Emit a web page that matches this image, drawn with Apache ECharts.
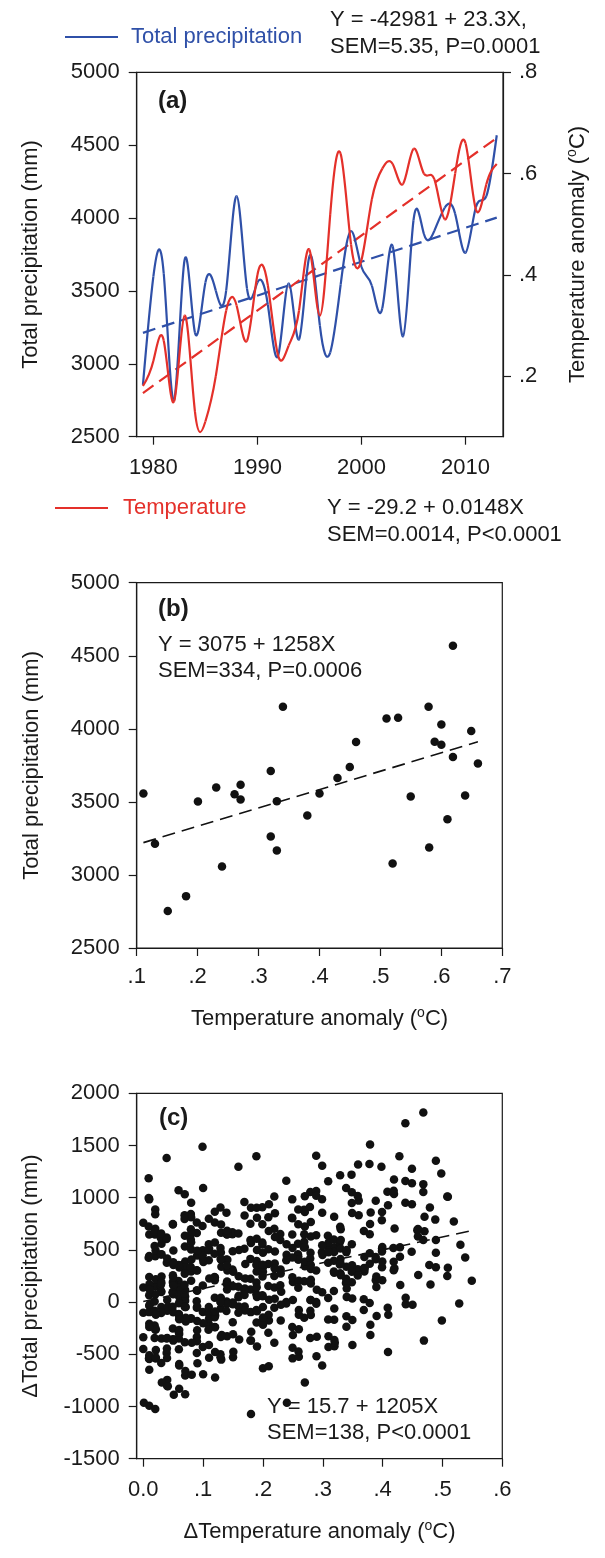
<!DOCTYPE html>
<html><head><meta charset="utf-8">
<script src="https://cdn.jsdelivr.net/npm/echarts@6/dist/echarts.min.js"></script>
<style>html,body{margin:0;padding:0;background:#fff}#c{width:605px;height:1558px}</style>
</head><body><div id="c"></div>
<script>
// ---- Data ----
const years = [1979,1980,1981,1982,1983,1984,1985,1986,1987,1988,1989,1990,1991,1992,1993,1994,1995,1996,1997,1998,1999,2000,2001,2002,2003,2004,2005,2006,2007,2008,2009,2010,2011,2012,2013];
const precipitation = [2855,3598,3618,2753,3712,3213,3557,3502,3504,4151,3516,3557,3406,3058,3552,3167,3739,3263,3079,3543,3910,3664,3536,3381,3807,3188,3985,3891,3912,4071,4030,3762,4076,4151,4568];
const temperature = [0.181,0.2305,0.2705,0.151,0.320,0.130,0.111,0.2005,0.330,0.340,0.2705,0.400,0.380,0.240,0.2606,0.330,0.4497,0.320,0.520,0.639,0.460,0.4295,0.5497,0.610,0.619,0.580,0.649,0.600,0.589,0.510,0.600,0.660,0.529,0.579,0.619];

// tick labels
const yearTicks = [1980,1990,2000,2010];
const tempAxisTicks = [0.2,0.4,0.6,0.8];
const precipTicksMin = 2500, precipTicksMax = 5000, precipStep = 500;
const dTempTicks = [0,0.1,0.2,0.3,0.4,0.5,0.6];

// texts
const eqPrecip = ['Y = -42981 + 23.3X,', 'SEM=5.35, P=0.0001'];
const eqTemp = ['Y = -29.2 + 0.0148X', 'SEM=0.0014, P<0.0001'];
const eqB = ['Y = 3075 + 1258X', 'SEM=334, P=0.0006'];
const eqC = ['Y = 15.7 + 1205X', 'SEM=138, P<0.0001'];

// ---- derived ----
function linfit(xs, ys){
  const n = xs.length; let sx=0,sy=0,sxx=0,sxy=0;
  for(let i=0;i<n;i++){sx+=xs[i];sy+=ys[i];sxx+=xs[i]*xs[i];sxy+=xs[i]*ys[i];}
  const b=(n*sxy-sx*sy)/(n*sxx-sx*sx); const a=(sy-b*sx)/n; return {a,b};
}
// end-point slopes of a natural cubic spline through the data (used only to draw the curve)
function splineSlopes(xs, ys){
  const n=xs.length, h=[], M=new Array(n).fill(0);
  for(let i=0;i<n-1;i++) h.push(xs[i+1]-xs[i]);
  const a=[],b=[],c=[],d=[];
  for(let i=1;i<n-1;i++){
    a.push(h[i-1]); b.push(2*(h[i-1]+h[i])); c.push(h[i]);
    d.push(6*((ys[i+1]-ys[i])/h[i]-(ys[i]-ys[i-1])/h[i-1]));
  }
  const m=b.length;
  for(let i=1;i<m;i++){const w=a[i]/b[i-1]; b[i]-=w*c[i-1]; d[i]-=w*d[i-1];}
  const sol=new Array(m);
  sol[m-1]=d[m-1]/b[m-1];
  for(let i=m-2;i>=0;i--) sol[i]=(d[i]-c[i]*sol[i+1])/b[i];
  for(let i=0;i<m;i++) M[i+1]=sol[i];
  const s=[];
  for(let i=0;i<n-1;i++) s.push((ys[i+1]-ys[i])/h[i]-h[i]*(2*M[i]+M[i+1])/6);
  s.push((ys[n-1]-ys[n-2])/h[n-2]+h[n-2]*(M[n-2]+2*M[n-1])/6);
  return s;
}
// panel (c): differences between every pair of years (warmer year minus cooler year)
const pairDiffs = [];
for(let i=0;i<years.length;i++){
  for(let j=i+1;j<years.length;j++){
    let hi=j, lo=i;
    if(temperature[j]<temperature[i]){hi=i;lo=j;}
    pairDiffs.push([+(temperature[hi]-temperature[lo]).toFixed(4), precipitation[hi]-precipitation[lo]]);
  }
}

const BLUE='#2F50A8', RED='#E4302A', INK='#1a1a1a';
const FF='"Liberation Sans", Arial, Helvetica, sans-serif';
const FS=22;

const fitP = linfit(years, precipitation);
const fitT = linfit(years, temperature);
const fitB = linfit(temperature, precipitation);
const fitC = linfit(pairDiffs.map(d=>d[0]), pairDiffs.map(d=>d[1]));
const x0=years[0], x1=years[years.length-1];
const tMin=Math.min(...temperature), tMax=Math.max(...temperature);
const dMin=Math.min(...pairDiffs.map(d=>d[0])), dMax=Math.max(...pairDiffs.map(d=>d[0]));

const lbl = {fontSize:FS, fontFamily:FF, color:INK};
const axLine = {show:true, onZero:false, lineStyle:{color:INK, width:1.2}};
const tick = {show:true, inside:false, length:8, lineStyle:{color:INK, width:1.2}};
const richName = {
  n:{fontSize:FS, fontFamily:FF, color:INK, lineHeight:26},
  sup:{fontSize:14, fontFamily:FF, color:INK, lineHeight:14, verticalAlign:'top'}
};
const dotFmt = v => v.toFixed(1).replace(/^0/,'');
const plain = v => String(v);

const grid = [
  {left:136.7, top:72.3, width:366.3, height:364.4, show:true, borderColor:INK, borderWidth:1.2, backgroundColor:'transparent'},
  {left:136.7, top:582.7, width:365.6, height:365.3, show:true, borderColor:INK, borderWidth:1.2, backgroundColor:'transparent'},
  {left:136.7, top:1093.3, width:365.6, height:365.4, show:true, borderColor:INK, borderWidth:1.2, backgroundColor:'transparent'}
];

const xAxis = [
  {gridIndex:0, type:'value', min:1978.4, max:2013.6, axisLine:axLine, splitLine:{show:false},
   axisTick:Object.assign({customValues:yearTicks}, tick),
   axisLabel:Object.assign({customValues:yearTicks, margin:20, formatter:plain}, lbl)},
  {gridIndex:1, type:'value', min:0.1, max:0.7, interval:0.1, axisLine:axLine, splitLine:{show:false},
   axisTick:tick, axisLabel:Object.assign({margin:18, formatter:dotFmt}, lbl),
   name:'{n|Temperature anomaly (}{sup|o}{n|C)}', nameLocation:'middle', nameGap:58,
   nameTextStyle:{rich:richName}},
  {gridIndex:2, type:'value', min:-0.011, max:0.6, axisLine:axLine, splitLine:{show:false},
   axisTick:Object.assign({customValues:dTempTicks}, tick),
   axisLabel:Object.assign({customValues:dTempTicks, margin:20, formatter:v=>v===0?'0.0':dotFmt(v)}, lbl),
   name:'{n|\u0394Temperature anomaly (}{sup|o}{n|C)}', nameLocation:'middle', nameGap:60,
   nameTextStyle:{rich:richName}}
];

const yAxis = [
  {gridIndex:0, type:'value', position:'left', min:precipTicksMin, max:precipTicksMax, interval:precipStep,
   axisLine:axLine, splitLine:{show:false}, axisTick:tick, axisLabel:Object.assign({margin:17, formatter:plain}, lbl),
   name:'Total precipitation (mm)', nameLocation:'middle', nameGap:95, nameRotate:90,
   nameTextStyle:{fontSize:FS, fontFamily:FF, color:INK}},
  {gridIndex:0, type:'value', position:'right', min:0.081, max:0.8,
   axisLine:axLine, splitLine:{show:false},
   axisTick:Object.assign({customValues:tempAxisTicks}, tick),
   axisLabel:Object.assign({customValues:tempAxisTicks, margin:16, formatter:dotFmt}, lbl),
   name:'{n|Temperature anomaly (}{sup|o}{n|C)}', nameLocation:'middle', nameGap:62, nameRotate:90,
   nameTextStyle:{rich:richName}},
  {gridIndex:1, type:'value', min:precipTicksMin, max:precipTicksMax, interval:precipStep,
   axisLine:axLine, splitLine:{show:false}, axisTick:tick, axisLabel:Object.assign({margin:17, formatter:plain}, lbl),
   name:'Total precipitation (mm)', nameLocation:'middle', nameGap:94, nameRotate:90,
   nameTextStyle:{fontSize:FS, fontFamily:FF, color:INK}},
  {gridIndex:2, type:'value', min:-1500, max:2000, interval:500,
   axisLine:axLine, splitLine:{show:false}, axisTick:tick, axisLabel:Object.assign({margin:17, formatter:plain}, lbl),
   name:'\u0394Total precipitation (mm)', nameLocation:'middle', nameGap:95, nameRotate:90,
   nameTextStyle:{fontSize:FS, fontFamily:FF, color:INK}}
];

// smooth curve drawn segment by segment through the data points (axis coords via api.coord)
function splineSeries(xs, ys, yAxisIndex, color){
  const s = splineSlopes(xs, ys);
  return {
    type:'custom', coordinateSystem:'cartesian2d', xAxisIndex:0, yAxisIndex:yAxisIndex, z:3, clip:false, silent:true,
    data: xs.map((x,i)=>[x, ys[i]]),
    renderItem: function(params, api){
      const i = params.dataIndex;
      if(i >= xs.length-1) return null;
      const h = xs[i+1]-xs[i];
      const p0 = api.coord([xs[i], ys[i]]);
      const c1 = api.coord([xs[i]+h/3, ys[i]+h*s[i]/3]);
      const c2 = api.coord([xs[i+1]-h/3, ys[i+1]-h*s[i+1]/3]);
      const p1 = api.coord([xs[i+1], ys[i+1]]);
      return {type:'bezierCurve',
        shape:{x1:p0[0],y1:p0[1],cpx1:c1[0],cpy1:c1[1],cpx2:c2[0],cpy2:c2[1],x2:p1[0],y2:p1[1]},
        style:{stroke:color, fill:'none', lineWidth:2.2}};
    }
  };
}

const dash = [13,7];
const series = [
  {type:'line', xAxisIndex:0, yAxisIndex:0, silent:true, showSymbol:false, z:2,
   data:[[x0, fitP.a+fitP.b*x0],[x1, fitP.a+fitP.b*x1]], lineStyle:{color:BLUE, width:2.2, type:dash}},
  {type:'line', xAxisIndex:0, yAxisIndex:1, silent:true, showSymbol:false, z:2,
   data:[[x0, fitT.a+fitT.b*x0],[x1, fitT.a+fitT.b*x1]], lineStyle:{color:RED, width:2.2, type:dash}},
  splineSeries(years, precipitation, 0, BLUE),
  splineSeries(years, temperature, 1, RED),
  {type:'scatter', xAxisIndex:1, yAxisIndex:2, symbolSize:8.5, itemStyle:{color:'#111', opacity:1},
   data:years.map((y,i)=>[temperature[i], precipitation[i]])},
  {type:'line', xAxisIndex:1, yAxisIndex:2, silent:true, showSymbol:false, z:4,
   data:[[tMin, fitB.a+fitB.b*tMin],[tMax, fitB.a+fitB.b*tMax]], lineStyle:{color:'#111', width:1.6, type:dash}},
  {type:'scatter', xAxisIndex:2, yAxisIndex:3, symbolSize:8.5, itemStyle:{color:'#111', opacity:1}, data:pairDiffs},
  {type:'line', xAxisIndex:2, yAxisIndex:3, silent:true, showSymbol:false, z:4,
   data:[[dMin, fitC.a+fitC.b*dMin],[dMax, fitC.a+fitC.b*dMax]], lineStyle:{color:'#111', width:1.6, type:dash}}
];

function txt(x, y, s, color, extra){
  return {type:'text', x:x, y:y, silent:true, z:10,
    style:Object.assign({text:s, fill:color||INK, fontSize:FS, fontFamily:FF, verticalAlign:'middle', align:'left'}, extra||{})};
}
const graphic = [
  {type:'line', silent:true, shape:{x1:65,y1:37,x2:118,y2:37}, style:{stroke:BLUE, lineWidth:2}},
  txt(131, 37, 'Total precipitation', BLUE),
  txt(330, 20, eqPrecip[0]), txt(330, 47, eqPrecip[1]),
  {type:'line', silent:true, shape:{x1:55,y1:508,x2:108,y2:508}, style:{stroke:RED, lineWidth:2}},
  txt(123, 508, 'Temperature', RED),
  txt(327, 508, eqTemp[0]), txt(327, 535, eqTemp[1]),
  txt(158, 101, '(a)', INK, {fontWeight:'bold', fontSize:24}),
  txt(158, 609, '(b)', INK, {fontWeight:'bold', fontSize:24}),
  txt(158, 645, eqB[0]), txt(158, 671, eqB[1]),
  txt(159, 1118, '(c)', INK, {fontWeight:'bold', fontSize:24}),
  txt(267, 1407, eqC[0]), txt(267, 1433, eqC[1])
];

const chart = echarts.init(document.getElementById('c'), null, {renderer:'canvas'});
chart.setOption({animation:false, backgroundColor:'#fff', grid, xAxis, yAxis, series, graphic});
</script></body></html>
